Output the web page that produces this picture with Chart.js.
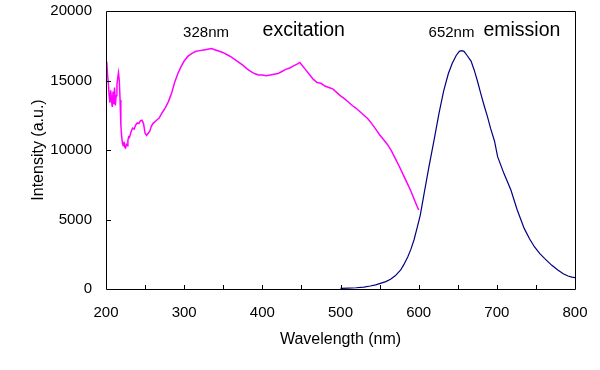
<!DOCTYPE html>
<html>
<head>
<meta charset="utf-8">
<script src="https://cdn.jsdelivr.net/npm/chart.js@4/dist/chart.umd.min.js"></script>
<style>
  html, body { margin: 0; padding: 0; background: #fff; }
  #spectrumChart { display: block; }
</style>
</head>
<body>
<canvas id="spectrumChart" width="600" height="370"></canvas>
<script>
// --- Data ---
const excitationNm = [
  200, 201, 202, 203, 204, 205, 206, 207, 208, 209, 210, 211, 212, 213, 214, 215, 216, 217, 218, 219,
  220, 221, 222, 223, 224, 225, 226, 227, 228, 229, 230, 232, 234, 236, 238, 240, 242, 244, 246, 248,
  250, 252, 254, 256, 258, 260, 264, 268, 272, 276, 280, 284, 288, 292, 296, 300, 305, 310, 315, 320,
  325, 330, 335, 340, 345, 350, 355, 360, 365, 370, 375, 380, 385, 390, 395, 400, 405, 410, 415, 420,
  425, 430, 435, 440, 445, 448, 450, 455, 460, 465, 470, 475, 480, 485, 490, 495, 500, 505, 510, 515,
  520, 525, 530, 535, 540, 545, 550, 555, 560, 565, 570, 575, 580, 585, 590, 595, 600
];
const excitationIntensity = [
  15900, 16350, 15400, 14800, 13900, 13400, 14300, 13600, 13100, 14200, 13300, 14500, 13200, 13900, 14700, 15200, 15560, 15000, 13600, 11800,
  11000, 10500, 10300, 10600, 10200, 10140, 10400, 10300, 10700, 10950, 10900, 11300, 11580, 11500, 11800, 11950, 11900, 12100, 12150, 11900,
  11200, 11050, 11200, 11350, 11700, 11900, 12100, 12300, 12700, 13050, 13500, 14100, 14900, 15500, 16000, 16400, 16750, 16950, 17100, 17150,
  17200, 17250, 17300, 17200, 17100, 17000, 16850, 16700, 16500, 16300, 16100, 15850, 15650, 15500, 15400, 15400, 15350, 15400, 15450, 15500,
  15650, 15800, 15900, 16050, 16200, 16300, 16150, 15800, 15450, 15100, 14850, 14800, 14600, 14500, 14400, 14150, 13900, 13700, 13450, 13200,
  13000, 12750, 12500, 12250, 11900, 11500, 11100, 10750, 10400, 9950, 9400, 8850, 8250, 7650, 7050, 6350, 5680
];

const emissionNm = [
  500, 510, 520, 530, 538, 545, 552, 558, 564, 570, 577, 581, 586, 590, 594, 598, 602, 607, 613, 620,
  626, 632, 638, 643, 648, 652, 655, 658, 662, 667, 671, 675, 680, 684, 688, 692, 697, 701, 709, 718,
  726, 735, 742, 748, 755, 761, 770, 778, 785, 791, 796, 800
];
const emissionIntensity = [
  40, 60, 90, 140, 216, 300, 420, 530, 696, 950, 1367, 1750, 2300, 2850, 3525, 4400, 5300, 6880, 8750, 10800,
  12640, 14250, 15500, 16240, 16800, 17100, 17150, 17100, 16800, 16400, 15760, 15000, 13950, 13150, 12400, 11550, 10650, 9520, 8320, 7120,
  5700, 4360, 3600, 3040, 2550, 2200, 1720, 1370, 1100, 935, 850, 815
];

const xMinorTicks = [250, 300, 350, 400, 450, 500, 550, 600, 650, 700, 750];
const yTickValues = [5000, 10000, 15000];

const annotations = [
  { text: '328nm', nm: 328, value: 18420, size: 15 },
  { text: 'excitation', nm: 453, value: 18600, size: 19.5 },
  { text: '652nm', nm: 642, value: 18420, size: 15 },
  { text: 'emission', nm: 732, value: 18600, size: 19.5 }
];

const FONT = "'Liberation Sans', Arial, sans-serif";

// --- Frame, inward ticks, axis titles, labels ---
const framePlugin = {
  id: 'frame',
  afterDraw(chart) {
    const { ctx, scales: { x, y } } = chart;
    const left = Math.round(x.getPixelForValue(200));
    const right = Math.round(x.getPixelForValue(800));
    const top = Math.round(y.getPixelForValue(20000));
    const bottom = Math.round(y.getPixelForValue(0));
    ctx.save();
    ctx.strokeStyle = '#000';
    ctx.lineWidth = 1;
    ctx.beginPath();
    ctx.moveTo(left + 0.5, top + 0.5);
    ctx.lineTo(right + 0.5, top + 0.5);
    ctx.lineTo(right + 0.5, bottom + 0.5);
    ctx.lineTo(left + 0.5, bottom + 0.5);
    ctx.closePath();
    yTickValues.forEach(v => {
      const py = Math.round(y.getPixelForValue(v)) + 0.5;
      ctx.moveTo(left, py);
      ctx.lineTo(left + 5, py);
    });
    xMinorTicks.forEach(v => {
      const px = Math.round(x.getPixelForValue(v)) + 0.5;
      ctx.moveTo(px, bottom);
      ctx.lineTo(px, bottom - 4);
    });
    ctx.stroke();

    ctx.fillStyle = '#000';
    ctx.textAlign = 'center';
    ctx.textBaseline = 'middle';
    annotations.forEach(n => {
      ctx.font = n.size + 'px ' + FONT;
      ctx.fillText(n.text, x.getPixelForValue(n.nm), y.getPixelForValue(n.value));
    });

    ctx.font = '16px ' + FONT;
    ctx.fillText('Wavelength (nm)', (left + right) / 2, 340);
    ctx.translate(39, (top + bottom) / 2);
    ctx.rotate(-Math.PI / 2);
    ctx.fillText('Intensity (a.u.)', 0, 0);
    ctx.restore();
  }
};

const toPoints = (xs, ys) => xs.map((v, i) => ({ x: v, y: ys[i] }));

new Chart(document.getElementById('spectrumChart').getContext('2d'), {
  type: 'line',
  data: {
    datasets: [{
      label: 'excitation',
      data: toPoints(excitationNm, excitationIntensity),
      borderColor: '#ff00ff',
      borderWidth: 1.5,
      pointRadius: 0,
      tension: 0
    }, {
      label: 'emission',
      data: toPoints(emissionNm, emissionIntensity),
      borderColor: '#000080',
      borderWidth: 1.2,
      pointRadius: 0,
      tension: 0
    }]
  },
  options: {
    responsive: false,
    animation: false,
    layout: { padding: { left: 0, top: 11, right: 25, bottom: 0 } },
    plugins: { legend: { display: false }, tooltip: { enabled: false } },
    scales: {
      x: {
        type: 'linear',
        min: 200,
        max: 800,
        grid: { display: false, drawTicks: false },
        border: { display: false },
        ticks: { stepSize: 100, padding: 15, color: '#000', font: { family: FONT, size: 15 } },
        afterFit: s => { s.height = 81; s.paddingLeft = 0; s.paddingRight = 0; }
      },
      y: {
        min: 0,
        max: 20000,
        grid: { display: false, drawTicks: false },
        border: { display: false },
        ticks: {
          stepSize: 5000, padding: 14, color: '#000', font: { family: FONT, size: 15 },
          callback: v => String(v)
        },
        afterFit: s => { s.width = 106; s.paddingTop = 0; s.paddingBottom = 0; }
      }
    }
  },
  plugins: [framePlugin]
});
</script>
</body>
</html>
